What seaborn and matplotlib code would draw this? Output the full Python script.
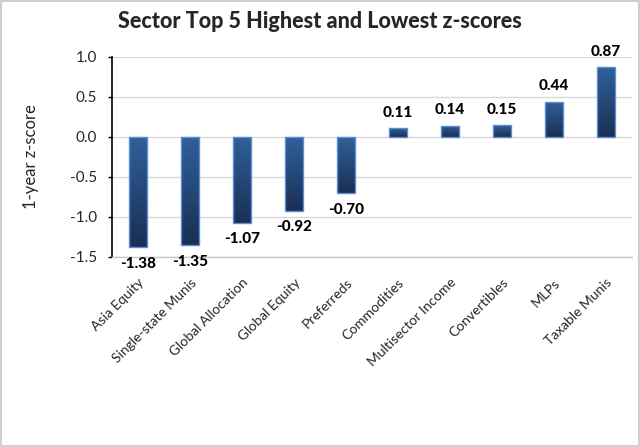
import numpy as np
import pandas as pd
import matplotlib
matplotlib.use("Agg")
import matplotlib.pyplot as plt
import seaborn as sns
from matplotlib.patches import Rectangle
from matplotlib.colors import LinearSegmentedColormap

# ── Data ────────────────────────────────────────────────────────────────────
sectors = ["Asia Equity", "Single-state Munis", "Global Allocation", "Global Equity",
           "Preferreds", "Commodities", "Multisector Income", "Convertibles",
           "MLPs", "Taxable Munis"]
zscores = [-1.38, -1.35, -1.07, -0.92, -0.70, 0.11, 0.14, 0.15, 0.44, 0.87]
yticks = [-1.5, -1.0, -0.5, 0.0, 0.5, 1.0]

df = pd.DataFrame({"sector": sectors, "z": zscores})

# ── Style ───────────────────────────────────────────────────────────────────
sns.set_style("white")
plt.rcParams["font.family"] = ["Lato", "DejaVu Sans"]

fig = plt.figure(figsize=(6.4, 4.47), dpi=100)
ax = fig.add_axes([112 / 640, 1 - 257 / 447, 520 / 640, 200 / 447])

sns.barplot(data=df, x="sector", y="z", ax=ax, width=0.35,
            color="#264a7c", edgecolor="#5b8fd1", linewidth=1.0, zorder=3)

# gradient fill clipped to each bar
cmap = LinearSegmentedColormap.from_list("bar", ["#1a2f52", "#30609c"])
grad = np.linspace(0, 1, 256).reshape(-1, 1)
for p in ax.patches:
    x0, y0 = p.get_x(), p.get_y()
    w, h = p.get_width(), p.get_height()
    ylo, yhi = min(y0, y0 + h), max(y0, y0 + h)
    im = ax.imshow(grad, cmap=cmap, aspect="auto", origin="lower",
                   extent=[x0, x0 + w, ylo, yhi], zorder=3.5)
    im.set_clip_path(p)
    p.set_facecolor("none")
    p.set_zorder(4)

# value labels
for i, v in enumerate(zscores):
    off = 6 if v >= 0 else -7
    ax.annotate(f"{v:.2f}", (i, v), xytext=(0, off), textcoords="offset points",
                ha="center", va="bottom" if v >= 0 else "top",
                fontsize=11, fontweight="black", color="black",
                annotation_clip=False)

ax.set_xlim(-0.5, len(sectors) - 0.5)
ax.set_ylim(-1.5, 1.0)
ax.set_yticks(yticks)
ax.set_yticklabels([f"{t:.1f}" for t in yticks], fontsize=11)
ax.yaxis.grid(True, color="#d9d9d9", linewidth=1.0, zorder=0)
ax.set_axisbelow(True)

ax.set_xticks(range(len(sectors)))
ax.set_xticklabels(sectors, rotation=45, ha="right", va="top",
                   rotation_mode="anchor", fontsize=10)
ax.tick_params(axis="x", length=0, pad=14)
ax.tick_params(axis="y", length=3, width=1, color="black", direction="out", left=True, pad=8)

ax.set_xlabel("")
ax.set_ylabel("1-year z-score", fontsize=12, labelpad=22)

for s in ["top", "right"]:
    ax.spines[s].set_visible(False)
ax.spines["left"].set_color("black")
ax.spines["left"].set_linewidth(1.2)
ax.spines["bottom"].set_color("#c8c8c8")
ax.spines["bottom"].set_linewidth(1.0)

fig.text(0.5, 1 - 22 / 447, "Sector Top 5 Highest and Lowest z-scores",
         ha="center", va="center", fontsize=15.5, fontweight="black")

# outer frame
fig.patches.append(Rectangle((0.002, 0.002), 0.996, 0.996, transform=fig.transFigure,
                             fill=False, edgecolor="#d0d0d0", linewidth=1.5))

fig.savefig("out.png", dpi=100)
